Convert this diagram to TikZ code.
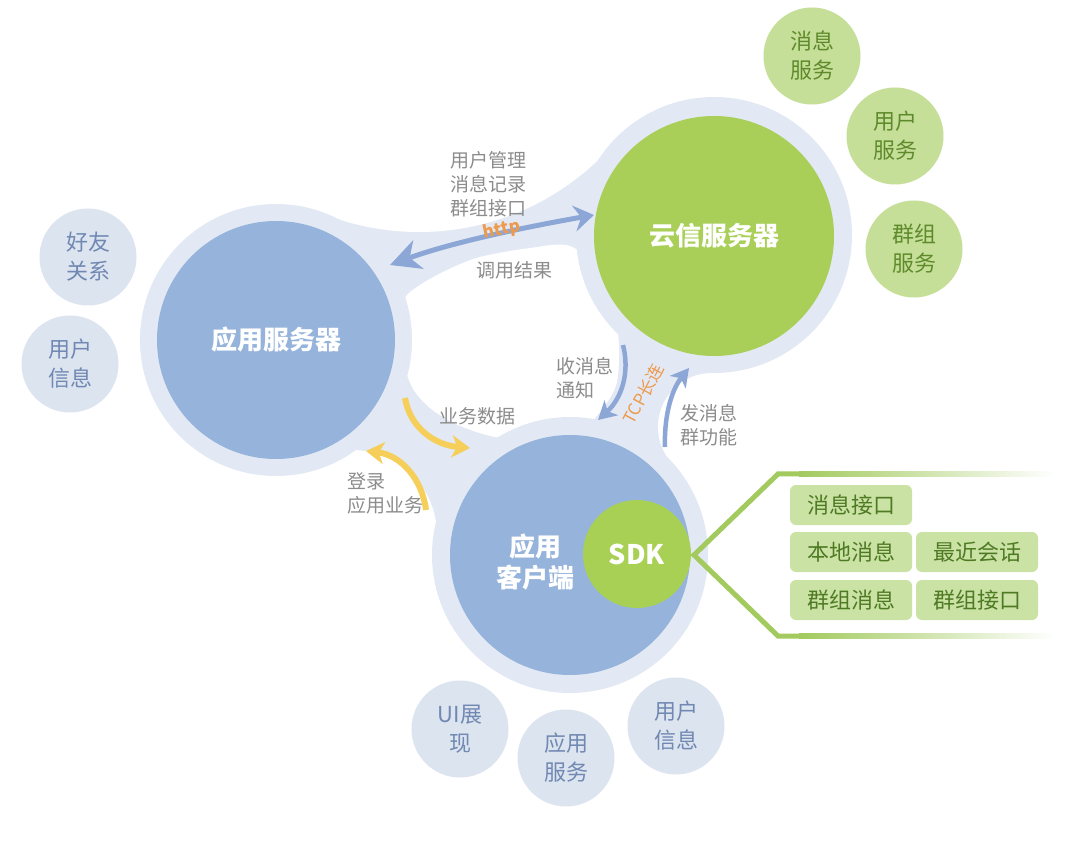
\documentclass[tikz,border=0pt]{standalone}
\usepackage{fontspec}
\setmainfont{Noto Sans CJK SC}
\usetikzlibrary{arrows.meta}
\definecolor{haloc}{HTML}{E2E9F4}
\definecolor{mainblue}{HTML}{96B4DB}
\definecolor{cloudgreen}{HTML}{A9CF58}
\definecolor{smallblue}{HTML}{DCE4F0}
\definecolor{smallbluetext}{HTML}{7088B2}
\definecolor{smallgreen}{HTML}{C6DF98}
\definecolor{smallgreentext}{HTML}{5E8A2C}
\definecolor{sdkgreen}{HTML}{A8D055}
\definecolor{chev}{HTML}{A2CA5E}
\definecolor{boxfill}{HTML}{CAE2A4}
\definecolor{boxtext}{HTML}{4F7A24}
\definecolor{labelgray}{HTML}{8C8C8C}
\definecolor{orangetext}{HTML}{EE9A4E}
\definecolor{arrowblue}{HTML}{8CA6D6}
\definecolor{arrowyellow}{HTML}{F6CE5A}
\begin{document}
\begin{tikzpicture}[x=1pt,y=-1pt,
  halostyle/.style={circle, fill=haloc, inner sep=0pt},
  mainc/.style={circle, inner sep=0pt, text=white, font=\bfseries\fontsize{26}{31}\selectfont, align=center},
  maintext/.style={inner sep=0pt, text=white, font=\bfseries\fontsize{26}{31}\selectfont, align=center},
  smallc/.style={circle, inner sep=0pt, minimum size=97pt, font=\fontsize{22}{29}\selectfont, align=center},
  bluec/.style={smallc, fill=smallblue, text=smallbluetext},
  greenc/.style={smallc, fill=smallgreen, text=smallgreentext},
  lbl/.style={text=labelgray, font=\fontsize{19}{24}\selectfont, inner sep=0pt},
  orangelbl/.style={text=orangetext, font=\bfseries\fontsize{17}{19}\selectfont, inner sep=0pt},
  barrow/.style={draw=arrowblue, line width=5pt},
  yarrow/.style={draw=arrowyellow, line width=6pt},
  sdkbox/.style={fill=boxfill, rounded corners=6pt, minimum width=122pt, minimum height=40pt, inner sep=0pt, text=boxtext, font=\fontsize{22}{26}\selectfont}
]
\useasboundingbox (0,0) rectangle (1080,842);
\fill[white] (0,0) rectangle (1080,842);

% metaball necks
\fill[haloc] (276,340) -- (419,-27) -- (714,235) -- (712,427) -- (570,555) -- (352,535) -- cycle;
\fill[white] (419,-27) circle (259);
\fill[white] (352,535) circle (85);
\fill[white] (712,427) circle (54);
\fill[white] plot[smooth cycle] coordinates {(404,300) (420,285) (447,270) (480,257) (530,248) (570,246) (605,275) (616,315) (619,350) (617,382) (606,404) (580,432) (540,440) (495,437) (458,425) (430,408) (411,385) (398,340)};

% halos
\node[halostyle, minimum size=272pt] (Ah) at (276,340) {};
\node[halostyle, minimum size=276pt] (Ch) at (714,235) {};
\node[halostyle, minimum size=276pt] (Bh) at (570,555) {};

% main circles
\node[mainc, fill=mainblue, minimum size=238pt] (A) at (276,340) {应用服务器};
\node[mainc, fill=cloudgreen, minimum size=240pt] (C) at (714,236) {云信服务器};
\node[mainc, fill=mainblue, minimum size=240pt] (B) at (570,555) {};
\node[maintext] (Bt) at (535,562) {应用\\客户端};
\node[circle, inner sep=0pt, fill=sdkgreen, minimum size=108pt, text=white, font=\bfseries\fontsize{27}{30}\selectfont] (sdk) at (637,554) {SDK};

% small circles
\node[bluec] (s1) at (88,257) {好友\\关系};
\node[bluec] (s2) at (70,364) {用户\\信息};
\node[greenc] (g1) at (812,56) {消息\\服务};
\node[greenc] (g2) at (895,136) {用户\\服务};
\node[greenc] (g3) at (914,249) {群组\\服务};
\node[bluec] (s3) at (460,729) {UI展\\现};
\node[bluec] (s4) at (566,758) {应用\\服务};
\node[bluec] (s5) at (676,726) {用户\\信息};

% labels
\node[lbl, align=center] (l1) at (488,184) {用户管理\\消息记录\\群组接口};
\node[lbl] (l2) at (514,270) {调用结果};
\node[lbl, align=left, anchor=west] (l3) at (556,378) {收消息\\通知};
\node[lbl, align=left, anchor=west] (l4) at (680,425) {发消息\\群功能};
\node[lbl] (l5) at (477,416) {业务数据};
\node[lbl, align=left, anchor=west] (l6) at (347,493) {登录\\应用业务};

% arrows
\coordinate (acL) at (390,265);
\coordinate (acR) at (594,215);
\draw[barrow, {Stealth[length=30pt,width=30pt,inset=9pt]}-{Stealth[length=20pt,width=26pt,inset=7pt]}] (acL) .. controls (450,243) and (520,228) .. (acR);
\node[orangelbl, rotate=12] (http) at (502,230) {http};

\coordinate (t1s) at (623,345);
\coordinate (t1e) at (598,420);
\draw[barrow, line width=4.5pt, -{Stealth[length=18pt,width=20pt,inset=5pt]}] (t1s) .. controls (630,372) and (622,398) .. (t1e);
\coordinate (t2s) at (665,447);
\coordinate (t2e) at (689,368);
\draw[barrow, line width=4.5pt, -{Stealth[length=18pt,width=20pt,inset=5pt]}] (t2s) .. controls (664,420) and (670,392) .. (t2e);
\node[orangelbl, font=\fontsize{17}{19}\selectfont, rotate=62] (tcp) at (643,394) {TCP长连};

\coordinate (y1s) at (405,398);
\coordinate (y1e) at (470,448);
\draw[yarrow, -{Stealth[length=18pt,width=22pt,inset=5pt]}] (y1s) .. controls (410,428) and (435,445) .. (y1e);
\coordinate (y2s) at (426,510);
\coordinate (y2e) at (366,451);
\draw[yarrow, -{Stealth[length=18pt,width=22pt,inset=5pt]}] (y2s) .. controls (422,478) and (400,455) .. (y2e);

% SDK panel
\coordinate (chT) at (800,474);
\coordinate (chTc) at (778,474);
\coordinate (chV) at (694,555);
\coordinate (chBc) at (778,636);
\coordinate (chB) at (800,636);
\draw[draw=chev, line width=5pt] (chT) -- (chTc) -- (chV) -- (chBc) -- (chB);
\shade[left color=chev, middle color=chev!70, right color=white] (799,471.5) rectangle (1055,476.5);
\shade[left color=chev, middle color=chev!70, right color=white] (799,633.5) rectangle (1055,638.5);

\node[sdkbox] (b1) at (851,505) {消息接口};
\node[sdkbox] (b2) at (851,552) {本地消息};
\node[sdkbox] (b3) at (977,552) {最近会话};
\node[sdkbox] (b4) at (851,600) {群组消息};
\node[sdkbox] (b5) at (977,600) {群组接口};
\end{tikzpicture}
\end{document}
